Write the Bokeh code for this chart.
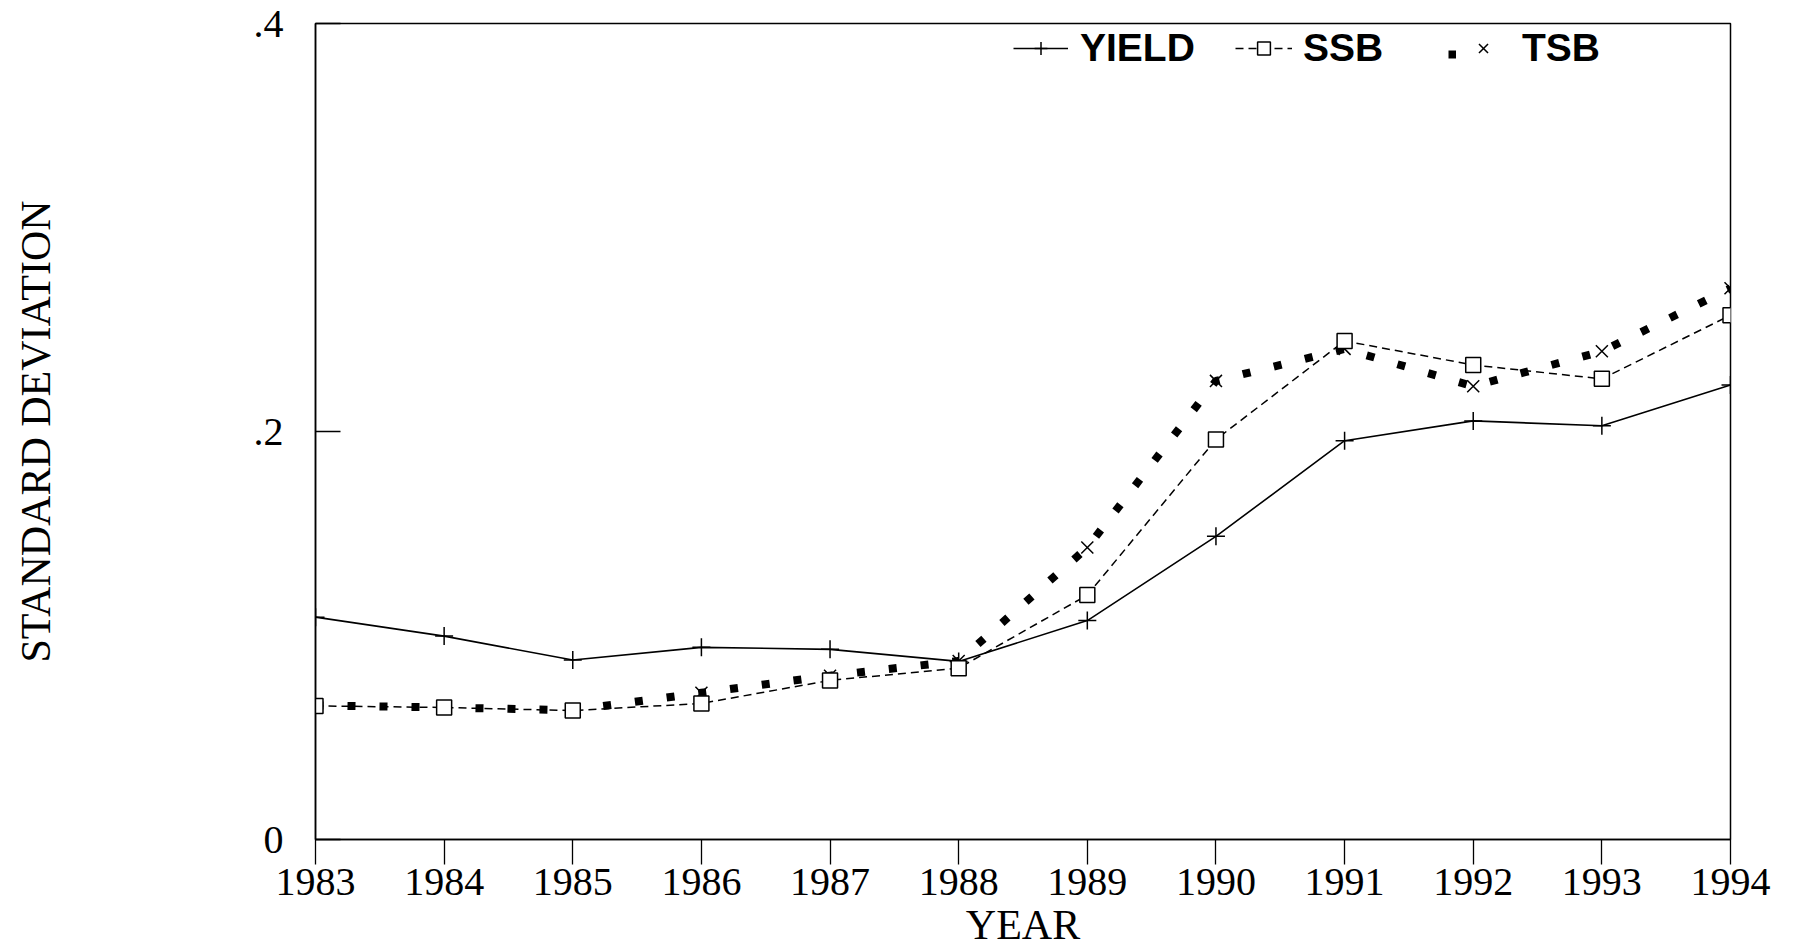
from bokeh.plotting import figure
from bokeh.models import Legend, LegendItem, FixedTicker, Range1d
from bokeh.embed import file_html
from bokeh.resources import INLINE

# ---- data ----
years = [1983, 1984, 1985, 1986, 1987, 1988, 1989, 1990, 1991, 1992, 1993, 1994]
yield_sd = [0.109, 0.0997, 0.088, 0.0942, 0.0932, 0.0873, 0.1073, 0.1486, 0.1955, 0.2052, 0.2028, 0.2228]
ssb_sd = [0.0655, 0.0647, 0.0632, 0.0667, 0.078, 0.084, 0.1198, 0.1961, 0.2444, 0.2326, 0.2258, 0.257]
tsb_sd = [0.0657, 0.0647, 0.0634, 0.0719, 0.0803, 0.0875, 0.1431, 0.2248, 0.2405, 0.2222, 0.2393, 0.2702]

x_ticks = years
y_ticks = [0, 0.2, 0.4]
y_tick_labels = ["0", ".2", ".4"]
series_labels = ["YIELD", "SSB", "TSB"]
x_title = "YEAR"
y_title = "STANDARD DEVIATION"

SERIF = "Liberation Serif"
SANS = "Liberation Sans"

W, H = 1790, 950
FL, FT, FW, FH = 315, 23, 1415, 820

p = figure(width=W, height=H, output_backend="svg", toolbar_location=None,
           x_range=Range1d(1983, 1994), y_range=Range1d(0, 0.4),
           min_border_left=FL, min_border_top=FT, min_border_right=W - FL - FW,
           min_border_bottom=H - FT - FH, background_fill_color="white",
           border_fill_color="white")
p.outline_line_color = "black"
p.outline_line_width = 1.5
p.outline_line_alpha = 1.0
p.xgrid.visible = False
p.ygrid.visible = False

xa = p.xaxis[0]
xa.ticker = FixedTicker(ticks=x_ticks)
xa.major_tick_out = 25
xa.major_tick_in = 0
xa.minor_tick_out = 0
xa.minor_tick_in = 0
xa.axis_line_width = 1.5
xa.major_tick_line_width = 1.3
xa.major_label_text_font = SERIF
xa.major_label_text_font_size = "40px"
xa.major_label_text_color = "black"
xa.major_label_standoff = 4
xa.axis_label = x_title
xa.axis_label_text_font = SERIF
xa.axis_label_text_font_size = "42px"
xa.axis_label_text_font_style = "normal"
xa.axis_label_text_color = "black"
xa.axis_label_standoff = 4

ya = p.yaxis[0]
ya.ticker = FixedTicker(ticks=y_ticks)
ya.major_label_overrides = {t: l for t, l in zip(y_ticks, y_tick_labels)}
ya.major_tick_out = 0
ya.major_tick_in = 25
ya.minor_tick_out = 0
ya.minor_tick_in = 0
ya.axis_line_width = 1.5
ya.major_tick_line_width = 1.3
ya.major_label_text_font = SERIF
ya.major_label_text_font_size = "40px"
ya.major_label_text_color = "black"
ya.major_label_standoff = 32
ya.axis_label = y_title
ya.axis_label_text_font = SERIF
ya.axis_label_text_font_size = "42px"
ya.axis_label_text_font_style = "normal"
ya.axis_label_text_color = "black"
ya.axis_label_standoff = 192

# ---- TSB: dotted line of square dots + x markers ----
tsb_line = p.line(years, tsb_sd, line_width=8, line_dash="8 24", line_cap="butt",
                  line_color="black")
tsb_x = p.scatter(years, tsb_sd, marker="x", size=17, line_width=1.5, line_color="black")

# ---- YIELD: solid line with + markers ----
y_line = p.line(years, yield_sd, line_width=1.6, line_color="black")
y_mark = p.scatter(years, yield_sd, marker="cross", size=18, line_width=1.5, line_color="black")

# ---- SSB: dashed line with open squares ----
s_line = p.line(years, ssb_sd, line_width=1.5, line_dash="8 5", line_color="black")
s_mark = p.scatter(years, ssb_sd, marker="square", size=15, line_width=1.5,
                   line_color="black", fill_color="white")


def make_legend(items, x, glyph_w, standoff, y=FH - 51):
    lg = Legend(items=items, location=(x, y), orientation="horizontal",
                glyph_width=glyph_w, glyph_height=32, label_height=32,
                label_standoff=standoff, spacing=0, padding=0, margin=0,
                border_line_color=None, background_fill_alpha=0,
                label_text_font=SANS, label_text_font_size="39px",
                label_text_font_style="bold", label_text_color="black")
    p.add_layout(lg, "center")
    return lg


make_legend([LegendItem(label=series_labels[0], renderers=[y_line, y_mark])], 698, 55, 12)
make_legend([LegendItem(label=series_labels[1], renderers=[s_line, s_mark])], 920, 57, 11)
make_legend([LegendItem(label=" ", renderers=[tsb_line])], 1133, 8, 0)
make_legend([LegendItem(label=series_labels[2], renderers=[tsb_x])], 1150, 36, 21)

open("out.html", "w").write(file_html(p, INLINE))
